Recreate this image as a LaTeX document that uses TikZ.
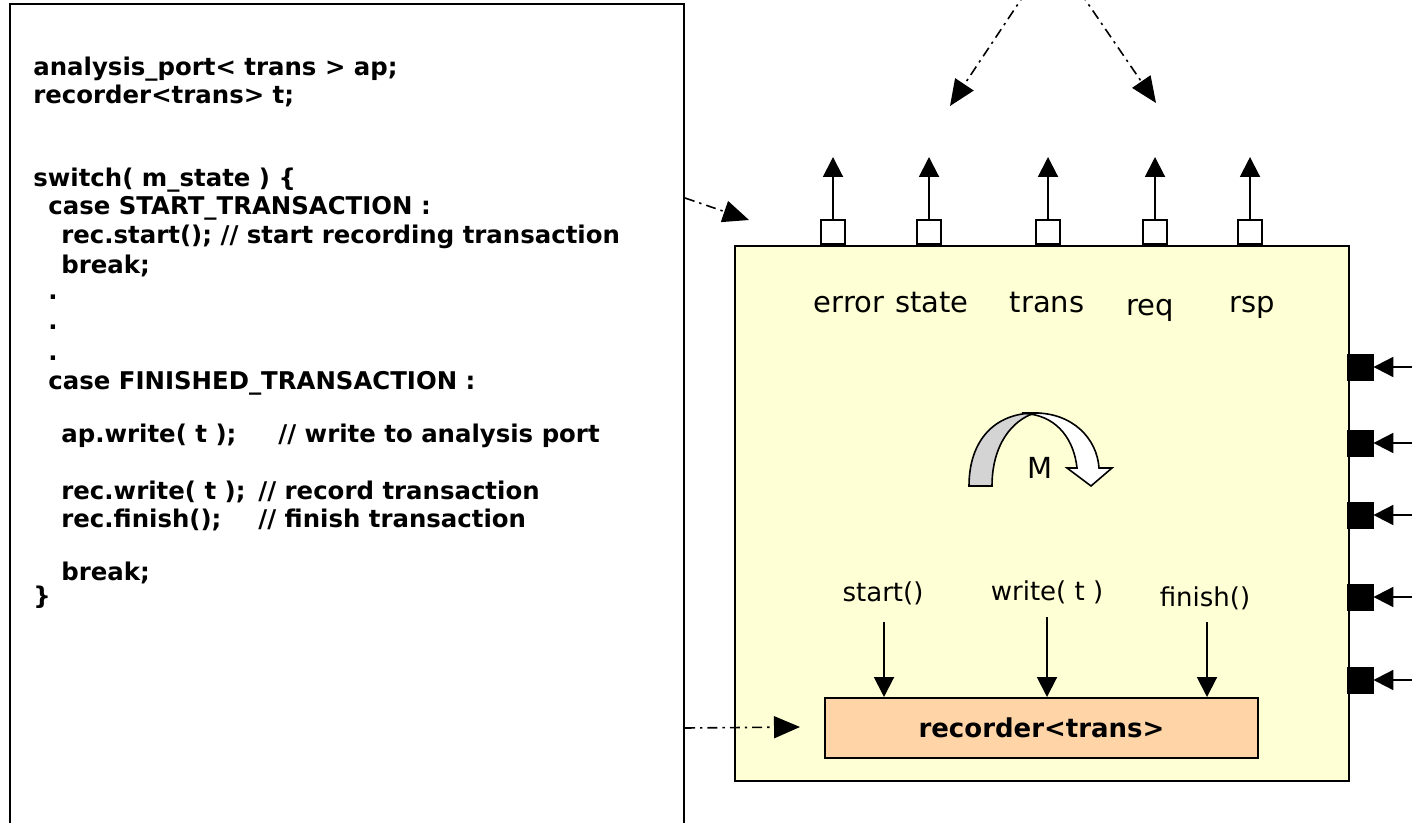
\documentclass[tikz,border=0pt]{standalone}
\usepackage{fontspec}
\setmainfont{DejaVu Sans}
\usetikzlibrary{arrows.meta}
\definecolor{boxyellow}{HTML}{FFFFD5}
\definecolor{recfill}{HTML}{FFD5A8}
\definecolor{arcgray}{HTML}{D4D4D4}
\tikzset{
  code/.style={anchor=base west, font=\bfseries\fontsize{12.2}{14.5}\selectfont, inner sep=0pt},
  toplab/.style={anchor=base, font=\fontsize{14.5}{17}\selectfont, inner sep=0pt},
  calllab/.style={anchor=base, font=\fontsize{13}{16}\selectfont, inner sep=0pt},
  solidarrow/.style={line width=1pt, -{Triangle[length=10pt,width=10pt]}},
  dasharrow/.style={line width=0.8pt, dash pattern=on 5pt off 2.5pt on 1.2pt off 2.5pt, -{Triangle[length=13pt,width=11pt]}},
  outport/.style={draw, fill=white, minimum size=12pt, inner sep=0pt, line width=0.8pt},
  inport/.style={draw, fill=black, minimum size=13pt, inner sep=0pt},
  frame/.style={draw, line width=1pt, inner sep=0pt},
}
\begin{document}
\begin{tikzpicture}[x=0.5pt,y=-0.5pt]
\useasboundingbox (0,0) rectangle (1412,823);
\clip (0,0) rectangle (1412,823);
\fill[white] (0,0) rectangle (1412,823);

% code box
\node[frame, minimum width=337pt, minimum height=420pt] (codebox) at (347,424) {};
\node[code] (l1) at (33,76) {analysis\_port< trans > ap;};
\node[code] (l2) at (33,104) {recorder<trans> t;};
\node[code] (l3) at (33,187) {switch( m\_state ) \{};
\node[code] (l4) at (48,215) {case START\_TRANSACTION :};
\node[code] (l5) at (61,244) {rec.start(); // start recording transaction};
\node[code] (l6) at (61,274) {break;};
\node[code] (l7) at (48,300) {.};
\node[code] (l8) at (48,330) {.};
\node[code] (l9) at (48,360) {.};
\node[code] (l10) at (48,389) {case FINISHED\_TRANSACTION :};
\node[code] (l11) at (61,442) {ap.write( t );};
\node[code] (l11c) at (278,442) {// write to analysis port};
\node[code] (l12) at (61,499) {rec.write( t );};
\node[code] (l12c) at (258,499) {// record transaction};
\node[code] (l13) at (61,527) {rec.finish();};
\node[code] (l13c) at (258,527) {// finish transaction};
\node[code] (l14) at (61,580) {break;};
\node[code] (l15) at (33,604) {\}};

% component box
\node[frame, fill=boxyellow, minimum width=307pt, minimum height=267.5pt] (comp) at (1042,513.5) {};

% output ports
\foreach \n/\x in {p1/833, p2/929, p3/1048, p4/1155, p5/1250} {
  \node[outport] (\n) at (\x,232) {};
  \coordinate (\n t) at (\x,157);
  \draw[solidarrow] (\n.north) -- (\n t);
}

% input ports
\foreach \n/\y in {q1/367, q2/443, q3/515, q4/597, q5/680} {
  \node[inport] (\n) at (1360,\y) {};
  \coordinate (\n s) at (1416,\y);
  \draw[solidarrow] (\n s) -- (\n.east);
}

% port labels
\node[toplab] (lerr) at (849,313) {error};
\node[toplab] (lsta) at (932,313) {state};
\node[toplab] (ltra) at (1047,313) {trans};
\node[toplab] (lreq) at (1150,316) {req};
\node[toplab] (lrsp) at (1252,313) {rsp};

% curved arrow M
\path[draw, line width=0.8pt, fill=arcgray] (969,486) .. controls (969,440) and (995,413) .. (1035,413)
  .. controls (1012,420) and (992,445) .. (992,486) -- cycle;
\path[draw, line width=0.8pt, fill=white] (1022,413) -- (1035,413) .. controls (1072,413) and (1097,438) .. (1099,468)
  -- (1112,468) -- (1091,486) -- (1067,468) -- (1077,468)
  .. controls (1074,440) and (1058,418) .. (1030,414) -- cycle;
\node[toplab] (mlab) at (1040,478) {M};

% recorder
\node[frame, fill=recfill, minimum width=216.5pt, minimum height=30pt, font=\bfseries\fontsize{13}{16}\selectfont] (rec) at (1041.5,728) {recorder<trans>};

\node[calllab] (cstart) at (883,601) {start()};
\node[calllab] (cwrite) at (1047,600) {write( t )};
\node[calllab] (cfinish) at (1205,606) {finish()};
\coordinate (a1) at (884,622);
\coordinate (a2) at (1047,617);
\coordinate (a3) at (1207,622);
\draw[solidarrow] (a1) -- (a1 |- rec.north);
\draw[solidarrow] (a2) -- (a2 |- rec.north);
\draw[solidarrow] (a3) -- (a3 |- rec.north);

% dash-dot arrows
\coordinate (d1s) at (1026,-8);
\coordinate (d1e) at (950,106);
\coordinate (d2s) at (1080,-8);
\coordinate (d2e) at (1156,103);
\draw[dasharrow] (d1s) -- (d1e);
\draw[dasharrow] (d2s) -- (d2e);
\coordinate (d3s) at (codebox.east |- 0,198);
\coordinate (d3e) at (749,220);
\draw[dasharrow] (d3s) -- (d3e);
\coordinate (d4s) at (codebox.east |- 0,728);
\coordinate (d4e) at (800,727);
\draw[dasharrow] (d4s) -- (d4e);
\end{tikzpicture}
\end{document}
